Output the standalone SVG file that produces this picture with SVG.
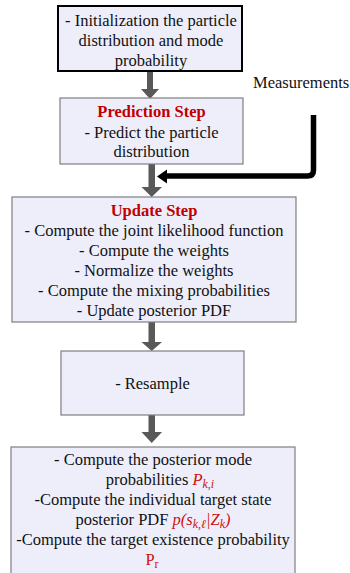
<svg xmlns="http://www.w3.org/2000/svg" width="350" height="573" viewBox="0 0 350 573">
<style>
.box{fill:#EEEEFA;stroke:#7F7F7F;stroke-width:1.2}
.box1{fill:#EEEEFA;stroke:#000;stroke-width:2}
text{font-family:"Liberation Serif","Times New Roman",serif;font-size:16.5px;fill:#111;text-anchor:middle}
.h{font-weight:bold;fill:#C00000}
.m{fill:#D01010;font-style:italic}
.r{fill:#D01010}
.arr{fill:#595959}
</style>
<rect width="350" height="573" fill="#fff"/>
<g id="connectors">
<polygon class="arr" points="147,71 153,71 153,89 159,89 150,99 141,89 147,89"/>
<polygon class="arr" points="148.5,164 155,164 155,187 162,187 151.7,197 141.5,187 148.5,187"/>
<polygon class="arr" points="148.5,322 155,322 155,342 162,342 151.7,351 141.5,342 148.5,342"/>
<polygon class="arr" points="148.5,415 155,415 155,432 162,432 151.7,443 141.5,432 148.5,432"/>
<path d="M313.5,115 V170 Q313.5,176 307.5,176 H166" fill="none" stroke="#000" stroke-width="5.5"/>
<polygon points="157,176.5 167,169.5 167,183.5" fill="#000"/>
</g>
<g id="n1">
<rect class="box1" x="58" y="6" width="184" height="65"/>
<text x="151" y="26">- Initialization the particle</text>
<text x="151" y="46">distribution and mode</text>
<text x="151" y="66">probability</text>
</g>
<g id="n2">
<rect class="box" x="60" y="98" width="183" height="66"/>
<text class="h" x="151.5" y="117">Prediction Step</text>
<text x="151.5" y="138">- Predict the particle</text>
<text x="151.5" y="157">distribution</text>
</g>
<g id="measurements">
<text x="253" y="88" style="text-anchor:start">Measurements</text>
</g>
<g id="n3">
<rect class="box" x="12" y="197" width="284" height="125"/>
<text class="h" x="154" y="216">Update Step</text>
<text x="154" y="236">- Compute the joint likelihood function</text>
<text x="154" y="256">- Compute the weights</text>
<text x="154" y="276">- Normalize the weights</text>
<text x="154" y="296">- Compute the mixing probabilities</text>
<text x="154" y="316">- Update posterior PDF</text>
</g>
<g id="n4">
<rect class="box" x="61" y="351" width="183" height="64"/>
<text x="152.5" y="389">- Resample</text>
</g>
<g id="n5">
<rect class="box" x="11" y="447" width="284" height="140"/>
<text x="153" y="465">- Compute the posterior mode</text>
<text x="160" y="485">probabilities <tspan class="m">P</tspan><tspan class="m" font-size="12" dy="3">k,i</tspan></text>
<text x="153" y="505">-Compute the individual target state</text>
<text x="153" y="525">posterior PDF  <tspan class="m">p(s</tspan><tspan class="m" font-size="12" dy="3">k,ℓ</tspan><tspan class="m" dy="-3">|Z</tspan><tspan class="m" font-size="12" dy="3">k</tspan><tspan class="m" dy="-3">)</tspan></text>
<text x="153" y="545">-Compute the target existence probability</text>
<text x="152" y="565"><tspan class="r">P</tspan><tspan class="r" font-size="12" dy="3">r</tspan></text>
</g>
</svg>
